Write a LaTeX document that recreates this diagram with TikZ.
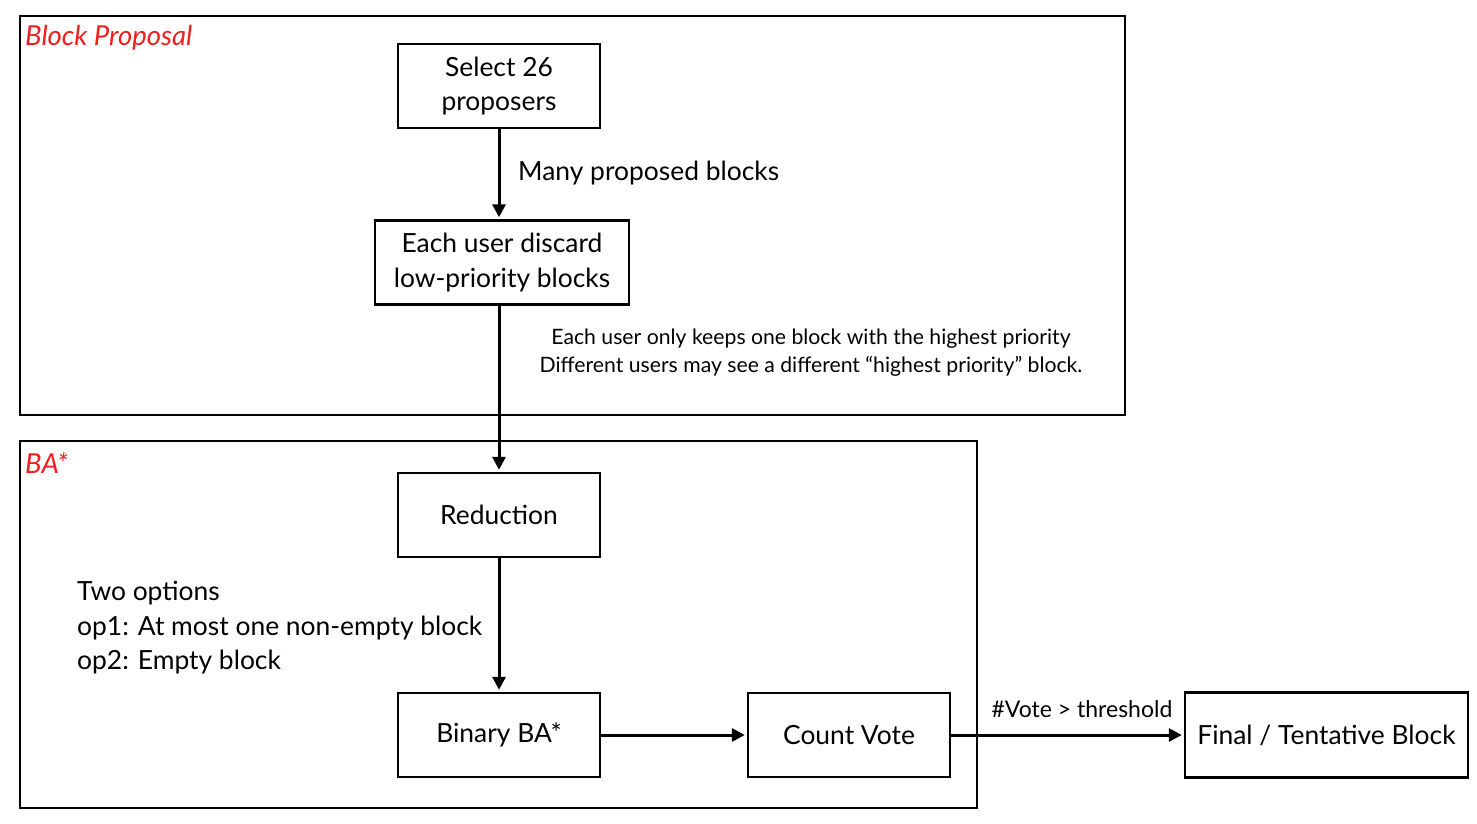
\documentclass[tikz,border=0pt]{standalone}
\usepackage{fontspec}
\setmainfont{Lato}
\usetikzlibrary{arrows.meta}
\definecolor{lblred}{RGB}{240,30,30}
\begin{document}
\begin{tikzpicture}[x=1pt,y=-1pt,
  frame/.style={draw,line width=2.4pt},
  stepbox/.style={draw,line width=2.4pt,minimum width=202pt,minimum height=84pt,align=center,inner sep=0pt,font=\fontsize{26.4}{34.5}\selectfont},
  conn/.style={line width=3pt,-{Triangle[length=13pt,width=13pt]},shorten >=2pt},
  lbl/.style={font=\fontsize{26.4}{34.5}\selectfont},
  note/.style={font=\fontsize{21.2}{28}\selectfont,align=center},
  title/.style={text=lblred,font=\fontsize{27.5}{30}\selectfont\itshape,anchor=west,inner sep=0pt}]
\useasboundingbox (0,0) rectangle (1477,823);
\fill[white] (0,0) rectangle (1477,823);
\draw[frame] (20,16) rectangle (1125,415);
\draw[frame] (20,441) rectangle (977,808);
\node[title] (t1) at (25,38) {Block Proposal};
\node[title] (t2) at (25,463) {BA*};
\node[stepbox] (sel) at (499,86) {Select 26\\proposers};
\node[stepbox,minimum width=254pt] (disc) at (502,262.5) {Each user discard\\low-priority blocks};
\node[stepbox] (red) at (499,515) {Reduction};
\node[stepbox] (bin) at (499,735) {Binary BA*};
\node[stepbox] (cnt) at (849,735) {Count Vote};
\node[stepbox,minimum width=283pt,minimum height=85pt] (fin) at (1326.5,735) {Final / Tentative Block};
\draw[conn] (sel.south) -- (sel.south |- disc.north);
\draw[conn] (disc.south -| sel.south) -- (red.north);
\draw[conn] (red.south) -- (bin.north);
\draw[conn] (bin.east) -- (cnt.west);
\draw[conn] (cnt.east) -- (fin.west);
\node[lbl,anchor=west,inner sep=0pt] (m1) at (518,173) {Many proposed blocks};
\node[note] (n1) at (811,353) {Each user only keeps one block with the highest priority\\Different users may see a different “highest priority” block.};
\node[lbl,anchor=west,align=left,inner sep=0pt] (n2) at (77,628) {Two options\\op1: At most one non-empty block\\op2: Empty block};
\node[font=\fontsize{23}{28}\selectfont,inner sep=0pt] (v1) at (1082,709) {\#Vote > threshold};
\end{tikzpicture}
\end{document}
